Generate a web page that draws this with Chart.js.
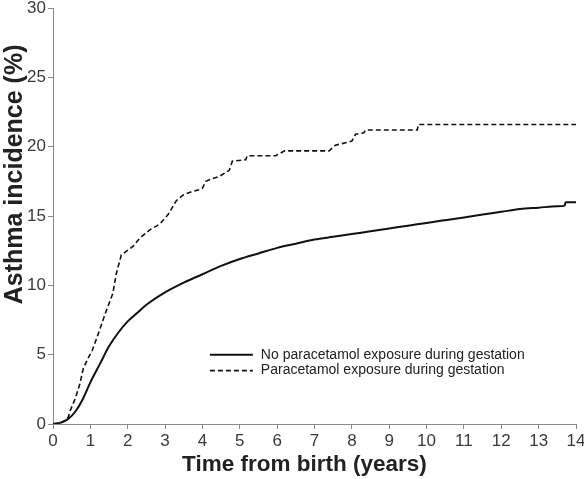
<!DOCTYPE html>
<html>
<head>
<meta charset="utf-8">
<script src="https://cdn.jsdelivr.net/npm/chart.js@4.4.1/dist/chart.umd.min.js"></script>
<style>
  html, body { margin: 0; padding: 0; background: #fff; }
  #wrap { width: 584px; height: 479px; position: relative; }
</style>
</head>
<body>
<div id="wrap"><canvas id="c" width="584" height="479"></canvas></div>
<script>
// Series labels
const seriesLabels = [
  "No paracetamol exposure during gestation",
  "Paracetamol exposure during gestation"
];
// Solid curve: time (years) and incidence (%)
const noExpTime = [0, 0.2, 0.4, 0.6, 0.8, 1.0, 1.25, 1.5, 1.75, 2.0, 2.25, 2.5, 3.0, 3.5, 4.0, 4.5, 5.0, 5.5, 6.0, 6.5, 7.0, 7.5, 8.0, 8.5, 9.0, 9.5, 10.0, 10.5, 11.0, 11.5, 12.0, 12.5, 13.0, 13.5, 13.7, 13.72, 14.0];
const noExpValue = [0, 0.1, 0.35, 0.9, 1.8, 3.0, 4.3, 5.6, 6.6, 7.4, 8.0, 8.6, 9.5, 10.2, 10.8, 11.4, 11.9, 12.3, 12.7, 13.0, 13.3, 13.5, 13.7, 13.9, 14.1, 14.3, 14.5, 14.7, 14.9, 15.1, 15.3, 15.5, 15.6, 15.7, 15.75, 16.0, 16.0];
// Dashed curve: time (years) and incidence (%)
const expTime = [0, 0.2, 0.35, 0.41, 0.45, 0.59, 0.72, 0.81, 0.95, 1.05, 1.25, 1.43, 1.6, 1.7, 1.83, 2.14, 2.32, 2.59, 2.85, 3.08, 3.3, 3.48, 3.65, 3.92, 4.0, 4.09, 4.27, 4.45, 4.72, 4.8, 5.16, 5.2, 5.96, 6.2, 7.39, 7.56, 8.0, 8.1, 8.32, 8.37, 9.75, 9.78, 14.0];
const expValue = [0, 0.05, 0.3, 0.5, 0.9, 1.8, 2.9, 4.0, 4.8, 5.3, 6.8, 8.2, 9.4, 10.9, 12.2, 12.8, 13.4, 14.0, 14.4, 15.1, 16.1, 16.5, 16.7, 16.9, 17.0, 17.5, 17.7, 17.85, 18.3, 18.95, 19.06, 19.35, 19.35, 19.7, 19.7, 20.1, 20.4, 20.9, 21.0, 21.2, 21.2, 21.6, 21.6];
// Axis settings
const xTicks = [0,1,2,3,4,5,6,7,8,9,10,11,12,13,14];
const yTicks = [0,5,10,15,20,25,30];
const xTitle = "Time from birth (years)";
const yTitle = "Asthma incidence (%)";

const FONT = '"Liberation Sans", Arial, sans-serif';
const toPts = (xs, ys) => xs.map((x, i) => ({x: x, y: ys[i]}));

const legendPlugin = {
  id: 'innerLegend',
  afterDraw(chart) {
    const ctx = chart.ctx;
    const xs = chart.scales.x, ys = chart.scales.y;
    const x0 = xs.getPixelForValue(4.2), x1 = xs.getPixelForValue(5.35);
    const rowsY = [ys.getPixelForValue(5.0), ys.getPixelForValue(3.85)];
    ctx.save();
    chart.data.datasets.forEach((ds, i) => {
      const y = rowsY[i];
      ctx.beginPath();
      ctx.strokeStyle = ds.borderColor;
      ctx.lineWidth = ds.borderWidth;
      ctx.setLineDash(ds.borderDash || []);
      ctx.moveTo(x0, y); ctx.lineTo(x1, y);
      ctx.stroke();
      ctx.setLineDash([]);
      ctx.fillStyle = '#222';
      ctx.font = '14px ' + FONT;
      ctx.textBaseline = 'middle';
      ctx.textAlign = 'left';
      ctx.fillText(ds.label, x1 + 8, y);
    });
    // X axis title
    ctx.fillStyle = '#222';
    ctx.font = 'bold 22.5px ' + FONT;
    ctx.textAlign = 'center';
    ctx.textBaseline = 'alphabetic';
    ctx.fillText(xTitle, xs.getPixelForValue(6.73), 471);
    // Y axis title
    ctx.translate(15, ys.getPixelForValue(18.0));
    ctx.rotate(-Math.PI / 2);
    ctx.font = 'bold 25px ' + FONT;
    ctx.textAlign = 'center';
    ctx.textBaseline = 'middle';
    ctx.fillText(yTitle, 0, 0);
    ctx.restore();
  }
};

new Chart(document.getElementById('c'), {
  type: 'line',
  data: {
    datasets: [
      { label: seriesLabels[0], data: toPts(noExpTime, noExpValue), borderColor: '#111', borderWidth: 2, pointRadius: 0, cubicInterpolationMode: 'monotone', fill: false },
      { label: seriesLabels[1], data: toPts(expTime, expValue), borderColor: '#111', borderWidth: 1.6, borderDash: [5, 3], pointRadius: 0, tension: 0, fill: false }
    ]
  },
  options: {
    responsive: false,
    animation: false,
    layout: { padding: { top: 8, right: 8, left: 0, bottom: 0 } },
    plugins: { legend: { display: false }, tooltip: { enabled: false } },
    scales: {
      x: {
        type: 'linear', min: 0, max: 14,
        afterBuildTicks: s => { s.ticks = xTicks.map(v => ({value: v})); },
        afterFit: s => { s.height = 55; s.paddingRight = 0; s.paddingLeft = 0; },
        grid: { display: true, drawOnChartArea: false, drawTicks: true, tickLength: 5, color: '#8a8a8a', lineWidth: 1 },
        border: { display: true, color: '#8a8a8a', width: 1 },
        ticks: { color: '#3a3a3a', font: { size: 17, family: FONT }, padding: 2, maxRotation: 0, autoSkip: false },
        title: { display: false }
      },
      y: {
        type: 'linear', min: 0, max: 30,
        afterBuildTicks: s => { s.ticks = yTicks.map(v => ({value: v})); },
        afterFit: s => { s.width = 53; s.paddingTop = 0; s.paddingBottom = 0; },
        grid: { display: true, drawOnChartArea: false, drawTicks: true, tickLength: 5, color: '#8a8a8a', lineWidth: 1 },
        border: { display: true, color: '#8a8a8a', width: 1 },
        ticks: { color: '#3a3a3a', font: { size: 17, family: FONT }, padding: 2 },
        title: { display: false }
      }
    }
  },
  plugins: [legendPlugin]
});
</script>
</body>
</html>
